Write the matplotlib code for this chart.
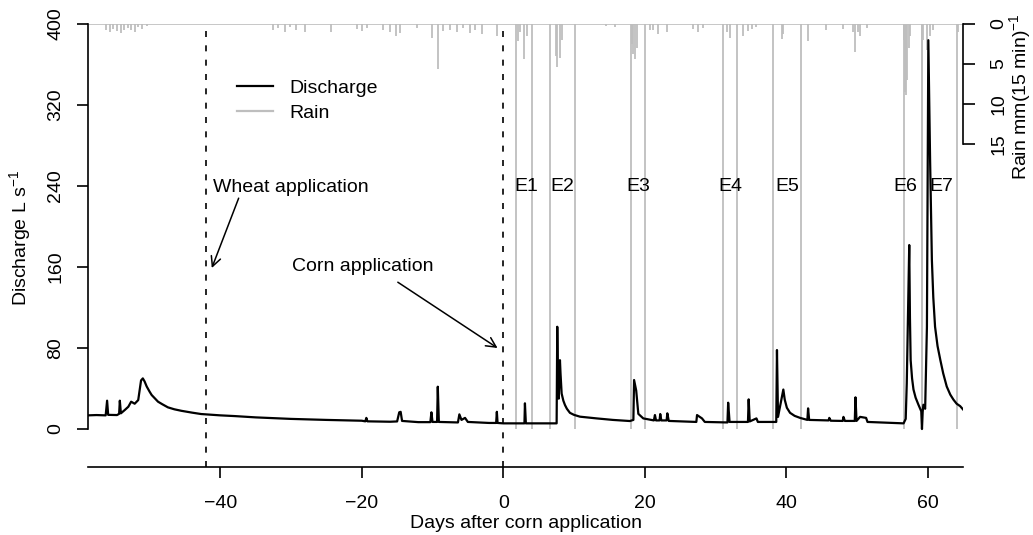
import matplotlib
matplotlib.use("Agg")
import matplotlib.pyplot as plt
from matplotlib.lines import Line2D

plt.rcParams['font.family'] = ['Liberation Sans', 'DejaVu Sans']
plt.rcParams['mathtext.default'] = 'regular'

# ---------------- data ----------------
q_day = [-58.7, -57.5, -56.2, -56.0, -55.85, -54.6, -54.3, -54.2, -54.05, -53.5,
         -53.0, -52.6, -52.1, -51.6, -51.2, -50.95, -50.7, -50.4, -50.0, -49.7,
         -49.2, -48.8, -48.2, -47.4, -46.5, -45.5, -44.0, -42.7, -40.0, -38.0,
         -35.0, -30.0, -25.0, -20.0, -19.5, -19.35, -19.2, -16.0, -15.0, -14.7,
         -14.5, -14.3, -12.0, -10.3, -10.15, -10.0, -9.35, -9.25, -9.1, -6.4,
         -6.2, -5.9, -5.4, -5.0, -2.0, -1.0, -0.9, -0.8, 0.0, 3.0,
         3.07, 3.2, 7.55, 7.64, 7.75, 7.85, 8.02, 8.1, 8.26, 8.5,
         8.73, 9.0, 9.43, 10.0, 10.85, 13.2, 15.5, 17.9, 18.4, 18.5,
         18.8, 19.1, 19.8, 21.3, 21.45, 21.6, 22.1, 22.2, 22.35, 23.1,
         23.2, 23.4, 27.3, 27.4, 28.1, 28.5, 31.7, 31.8, 32.0, 34.6,
         34.7, 34.85, 35.8, 36.0, 38.6, 38.7, 38.85, 39.6, 39.8, 40.1,
         40.55, 41.2, 41.97, 43.0, 43.1, 43.25, 46.0, 46.1, 46.3, 48.0,
         48.1, 48.3, 49.7, 49.8, 49.95, 50.45, 51.3, 51.5, 56.6, 56.9,
         57.05, 57.4, 57.5, 57.6, 57.8, 58.0, 58.3, 58.7, 59.1, 59.2,
         59.3, 59.4, 59.65, 59.9, 60.1, 60.35, 60.6, 60.8, 61.05, 61.4,
         61.8, 62.2, 62.7, 63.2, 63.65, 64.1, 64.6, 65.0]
q_val = [13.5, 13.8, 13.5, 28.0, 14.0, 13.8, 15.0, 28.0, 15.5, 18.8,
         22.0, 27.0, 25.0, 28.6, 48.0, 50.0, 47.0, 42.0, 37.0, 33.6,
         30.0, 27.0, 24.5, 21.4, 19.5, 18.0, 16.2, 14.8, 13.5, 12.8,
         11.5, 10.0, 9.0, 8.2, 7.6, 11.0, 7.6, 7.2, 7.5, 16.5,
         17.0, 8.0, 6.8, 6.8, 16.5, 7.0, 7.0, 41.8, 7.0, 6.5,
         14.5, 9.0, 11.0, 7.0, 6.0, 6.0, 17.0, 6.0, 5.6, 5.6,
         25.4, 5.6, 5.6, 101.0, 40.0, 30.0, 68.0, 55.0, 35.0, 28.0,
         23.7, 20.0, 16.0, 14.0, 12.2, 10.5, 9.0, 7.9, 9.0, 48.4,
         38.0, 15.0, 10.5, 8.5, 13.8, 8.5, 8.5, 14.8, 8.5, 8.5,
         15.5, 8.0, 7.0, 13.8, 10.5, 7.0, 6.5, 26.0, 7.0, 7.0,
         29.3, 7.5, 10.5, 7.0, 7.0, 78.0, 12.0, 39.0, 29.0, 21.0,
         16.0, 13.0, 11.0, 9.0, 20.4, 9.0, 8.5, 11.0, 8.2, 8.0,
         12.0, 8.0, 8.0, 31.3, 8.0, 12.0, 11.0, 7.0, 5.6, 10.0,
         45.0, 181.7, 110.0, 68.0, 50.0, 39.0, 31.0, 24.0, 17.5, 0.0,
         17.0, 24.0, 20.0, 101.0, 384.0, 265.0, 167.0, 130.0, 101.0, 82.0,
         68.0, 55.0, 42.0, 34.0, 29.0, 25.0, 22.6, 19.4]

rain_day = [-56.1, -55.6, -55.1, -54.6, -54.1, -53.6, -53.1, -52.6, -52.1, -51.6,
            -51.0, -50.3, -32.5, -31.8, -30.9, -30.2, -29.3, -28.05, -24.4, -20.7,
            -20.0, -19.3, -17.0, -16.0, -15.1, -14.6, -12.25, -10.1, -9.2, -8.5,
            -7.5, -6.6, -5.7, -4.7, -4.0, -3.05, -0.93, 2.12, 2.36, 2.93,
            3.3, 7.45, 7.64, 8.0, 8.26, 14.6, 15.8, 18.16, 18.4, 18.6,
            18.9, 20.75, 21.2, 21.9, 23.1, 26.9, 27.6, 28.3, 31.6, 32.0,
            33.9, 34.65, 35.1, 35.8, 39.4, 39.6, 43.1, 45.7, 48.1, 49.5,
            49.75, 50.2, 50.45, 51.4, 56.6, 56.8, 56.95, 57.1, 57.3, 57.5,
            59.4, 59.9, 60.35, 60.8, 64.35]
rain_mm = [0.8, 1.0, 0.6, 0.9, 1.1, 0.7, 0.5, 0.8, 1.0, 0.4,
           0.6, 0.3, 0.8, 0.5, 1.0, 0.4, 0.7, 1.0, 1.0, 0.6,
           0.9, 0.5, 0.8, 1.0, 1.5, 1.1, 0.5, 1.7, 5.6, 0.9,
           0.7, 1.0, 0.5, 1.1, 0.7, 1.2, 1.5, 2.1, 1.0, 4.4,
           1.5, 4.0, 5.4, 4.2, 2.0, 0.3, 0.4, 2.5, 3.75, 4.4,
           3.0, 0.8, 0.7, 1.25, 1.0, 0.6, 1.0, 0.5, 1.0, 1.7,
           1.5, 0.9, 0.6, 0.4, 1.9, 1.2, 2.1, 0.8, 0.6, 1.0,
           3.5, 1.0, 1.5, 0.5, 2.0, 8.5, 8.9, 7.0, 3.0, 1.5,
           2.0, 3.3, 1.5, 0.7, 1.0]

ev_names = ['E1', 'E2', 'E3', 'E4', 'E5', 'E6', 'E7']
ev_start = [1.8, 6.6, 18.0, 31.1, 38.2, 56.7, 59.2]
ev_end = [4.1, 10.1, 20.1, 33.1, 42.1, 59.2, 64.1]
ev_label_x = [3.3, 8.3, 19.05, 32.1, 40.1, 56.9, 61.9]

app_days = [-42, 0]
x_ticks = [-40, -20, 0, 20, 40, 60]
y_ticks = [0, 80, 160, 240, 320, 400]
rain_ticks = [0, 5, 10, 15]

# ---------------- figure ----------------
W, H = 1033, 535
fig = plt.figure(figsize=(W / 100, H / 100), dpi=100)
ax = fig.add_axes([88 / W, 1 - 467 / H, 875 / W, 443 / H])
ax2 = ax.twinx()
ax.set_zorder(ax2.get_zorder() + 1)
ax.patch.set_visible(False)

GRAY = '#BEBEBE'
FS = 14

ax.set_xlim(-58.7, 65.0)
ax.set_ylim(-37.5, 400)
ax2.set_ylim(55.375, 0)

# rain
ax2.axhline(0, color=GRAY, lw=1.2)
ax2.vlines(rain_day, 0, rain_mm, color=GRAY, lw=1.3)

# event lines
ax.vlines(ev_start, 0, 400, color=GRAY, lw=1.3, zorder=1)
ax.vlines(ev_end, 0, 400, color=GRAY, lw=1.3, zorder=1)
for name, xl in zip(ev_names, ev_label_x):
    ax.text(xl, 240, name, ha='center', va='center', fontsize=FS, zorder=3)

# application lines
for d in app_days:
    ax.axvline(d, color='black', lw=1.2, linestyle=(0, (3.6, 5.0)), zorder=2)

# discharge
ax.plot(q_day, q_val, color='black', lw=1.6, zorder=4)

# annotations
arrow = dict(arrowstyle='->,head_length=0.7,head_width=0.35', lw=1.1, color='black',
             shrinkA=0, shrinkB=0)
ax.text(-30.0, 239, 'Wheat application', ha='center', va='center', fontsize=FS)
ax.annotate('', xy=(-41.2, 159), xytext=(-37.4, 228), arrowprops=arrow)
ax.text(-19.9, 161, 'Corn application', ha='center', va='center', fontsize=FS)
ax.annotate('', xy=(-0.8, 80), xytext=(-14.9, 145), arrowprops=arrow)

# legend
handles = [Line2D([], [], color='black', lw=1.6), Line2D([], [], color=GRAY, lw=1.6)]
fig.legend(handles, ['Discharge', 'Rain'], loc='upper left',
           bbox_to_anchor=(237 / W, 1 - 79 / H), frameon=False, fontsize=FS,
           handlelength=1.85, handletextpad=0.85, labelspacing=0.38,
           borderpad=0, borderaxespad=0)

# axes styling
for s in ['top', 'right']:
    ax.spines[s].set_visible(False)
ax.spines['left'].set_bounds(0, 400)
for s in ['top', 'left', 'bottom']:
    ax2.spines[s].set_visible(False)
ax2.spines['right'].set_bounds(0, 15)
for sp in [ax.spines['left'], ax.spines['bottom'], ax2.spines['right']]:
    sp.set_linewidth(1.2)

ax.set_xticks(x_ticks)
ax.set_yticks(y_ticks)
ax2.set_yticks(rain_ticks)
ax.tick_params(axis='x', direction='out', length=8, width=1.2, labelsize=FS, pad=12)
ax.tick_params(axis='y', direction='out', length=8, width=1.2, labelsize=FS, pad=9,
               labelrotation=90)
ax2.tick_params(axis='y', direction='out', length=8.5, width=1.2, labelsize=FS, pad=11,
                labelrotation=90)
for lab in ax.get_yticklabels():
    lab.set_va('center')
for lab in ax2.get_yticklabels():
    lab.set_va('center')

fig.text(525.5 / W, 1 - 524 / H, 'Days after corn application', ha='center', va='center',
         fontsize=FS)
fig.text(20 / W, 1 - 238 / H, r'Discharge L s$^{-1}$', ha='center', va='center',
         rotation=90, fontsize=FS)
fig.text(1020 / W, 1 - 97 / H, r'Rain mm(15 min)$^{-1}$', ha='center', va='center',
         rotation=90, fontsize=FS)

fig.savefig('out.png', dpi=100)
